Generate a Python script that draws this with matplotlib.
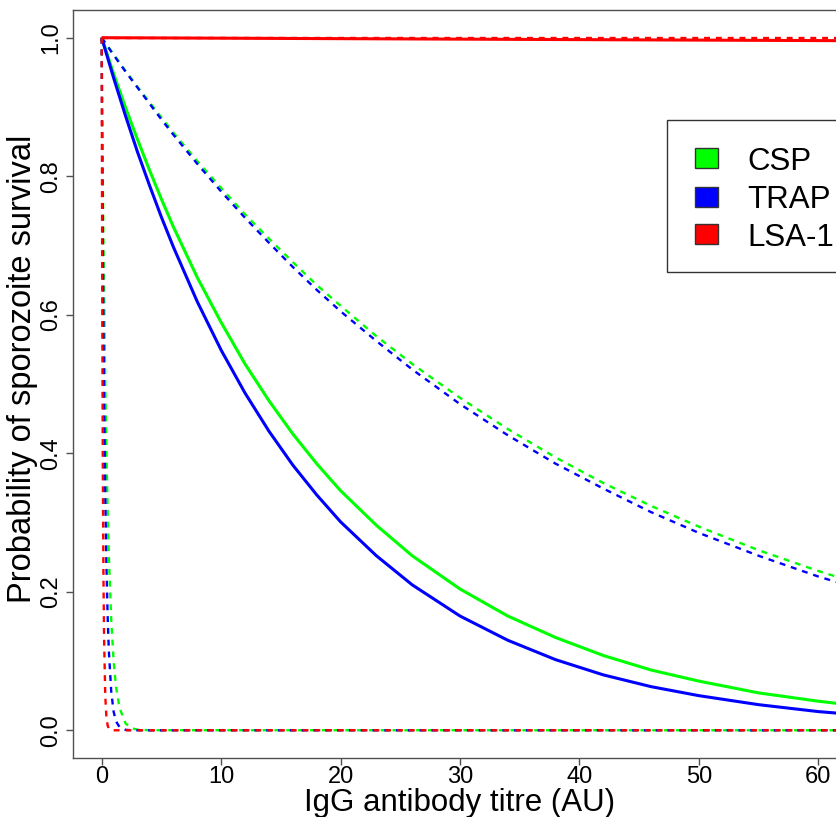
import matplotlib.pyplot as plt
from matplotlib.patches import Rectangle

plt.rcParams["font.family"] = ["Liberation Sans", "DejaVu Sans"]

# ---- data ----
titre = [0, 1, 2, 3, 4, 5, 6, 8, 10, 12, 14, 16, 18, 20, 23, 26, 30, 34, 38,
         42, 46, 50, 55, 60, 65]

csp_median = [1.000, 0.948, 0.899, 0.853, 0.809, 0.767, 0.727, 0.654, 0.589,
              0.529, 0.476, 0.428, 0.385, 0.346, 0.296, 0.252, 0.204, 0.165,
              0.134, 0.108, 0.087, 0.071, 0.054, 0.042, 0.032]
trap_median = [1.000, 0.942, 0.887, 0.835, 0.787, 0.741, 0.698, 0.619, 0.549,
               0.487, 0.432, 0.383, 0.340, 0.301, 0.252, 0.210, 0.165, 0.130,
               0.102, 0.080, 0.063, 0.050, 0.037, 0.027, 0.020]
csp_upper = [1.000, 0.976, 0.952, 0.929, 0.907, 0.885, 0.863, 0.822, 0.783,
             0.745, 0.710, 0.676, 0.643, 0.613, 0.569, 0.529, 0.480, 0.435,
             0.394, 0.357, 0.324, 0.294, 0.260, 0.230, 0.203]
trap_upper = [1.000, 0.975, 0.951, 0.928, 0.905, 0.882, 0.860, 0.818, 0.778,
              0.740, 0.704, 0.669, 0.636, 0.605, 0.562, 0.521, 0.471, 0.426,
              0.385, 0.349, 0.315, 0.285, 0.252, 0.222, 0.196]

# steep lower bounds near zero titre
titre_low = [0, 0.05, 0.1, 0.15, 0.2, 0.3, 0.4, 0.5, 0.6, 0.8, 1.0, 1.2, 1.5,
             2.0, 2.5, 3.0, 4.0, 65]
csp_lower = [1.000, 0.891, 0.794, 0.708, 0.631, 0.502, 0.399, 0.317, 0.252,
             0.159, 0.100, 0.063, 0.032, 0.010, 0.003, 0.001, 0.0001, 0.0]
trap_lower = [1.000, 0.835, 0.698, 0.583, 0.487, 0.340, 0.237, 0.165, 0.115,
              0.056, 0.027, 0.013, 0.0045, 0.0007, 0.0001, 0.0, 0.0, 0.0]
lsa_lower = [1.000, 0.607, 0.368, 0.223, 0.135, 0.050, 0.018, 0.007, 0.0025,
             0.0003, 0.0, 0.0, 0.0, 0.0, 0.0, 0.0, 0.0, 0.0]

titre_lsa = [0, 65]
lsa_median = [1.000, 0.9955]
lsa_upper = [1.000, 1.000]

antigens = ["CSP", "TRAP", "LSA-1"]
colours = ["#00FF00", "#0000FF", "#FF0000"]

W, H = 837, 817
fig = plt.figure(figsize=(W / 100, H / 100), dpi=100)
ax = fig.add_axes([73 / W, (H - 758) / H, (847 - 73) / W, (758 - 10) / H])

dash = (0, (2.5, 2.5))
series = [
    (titre, csp_median, titre, csp_upper, titre_low, csp_lower),
    (titre, trap_median, titre, trap_upper, titre_low, trap_lower),
    (titre_lsa, lsa_median, titre_lsa, lsa_upper, titre_low, lsa_lower),
]
for (xm, ym, xu, yu, xl, yl), col in zip(series, colours):
    ax.plot(xm, ym, color=col, lw=2.2, solid_capstyle="butt")
    ax.plot(xu, yu, color=col, lw=1.7, linestyle=dash)
    ax.plot(xl, yl, color=col, lw=1.7, linestyle=dash)

ax.set_xlim(-2.4, 62.4)
ax.set_ylim(-0.04, 1.04)
ax.set_xticks([0, 10, 20, 30, 40, 50, 60])
ax.set_yticks([0.0, 0.2, 0.4, 0.6, 0.8, 1.0])
ax.set_yticklabels(["0.0", "0.2", "0.4", "0.6", "0.8", "1.0"],
                   rotation=90, va="center")
ax.tick_params(direction="out", length=5, width=1, colors="#505050",
               labelcolor="black", labelsize=17)
ax.tick_params(axis="x", pad=1)
ax.tick_params(axis="y", pad=3)
for side in ["left", "bottom", "top", "right"]:
    ax.spines[side].set_color("#505050")
    ax.spines[side].set_linewidth(1)

ax.set_xlabel("IgG antibody titre (AU)", fontsize=22.5, labelpad=0)
ax.set_ylabel("Probability of sporozoite survival", fontsize=23.5, labelpad=0)
ax.yaxis.set_label_coords(-0.045, 0.52)


# ---- legend box (R style, runs off the right edge) ----
def px(x, y):
    return x / W, 1 - y / H


x0, y0 = px(667, 272)
fig.patches.append(Rectangle((x0, y0), (900 - 667) / W, (272 - 120) / H,
                             transform=fig.transFigure, facecolor="white",
                             edgecolor="#333333", lw=1, zorder=5))
row_centres = [158, 196.5, 234]
for name, col, yc in zip(antigens, colours, row_centres):
    sx, sy = px(695, yc + 10)
    fig.patches.append(Rectangle((sx, sy), 23 / W, 20 / H,
                                 transform=fig.transFigure, facecolor=col,
                                 edgecolor="#333333", lw=1, zorder=6))
    tx, ty = px(747, yc + 12)
    fig.text(tx, ty, name, fontsize=22.5, va="baseline", ha="left", zorder=6)

fig.savefig("out.png", dpi=100)
